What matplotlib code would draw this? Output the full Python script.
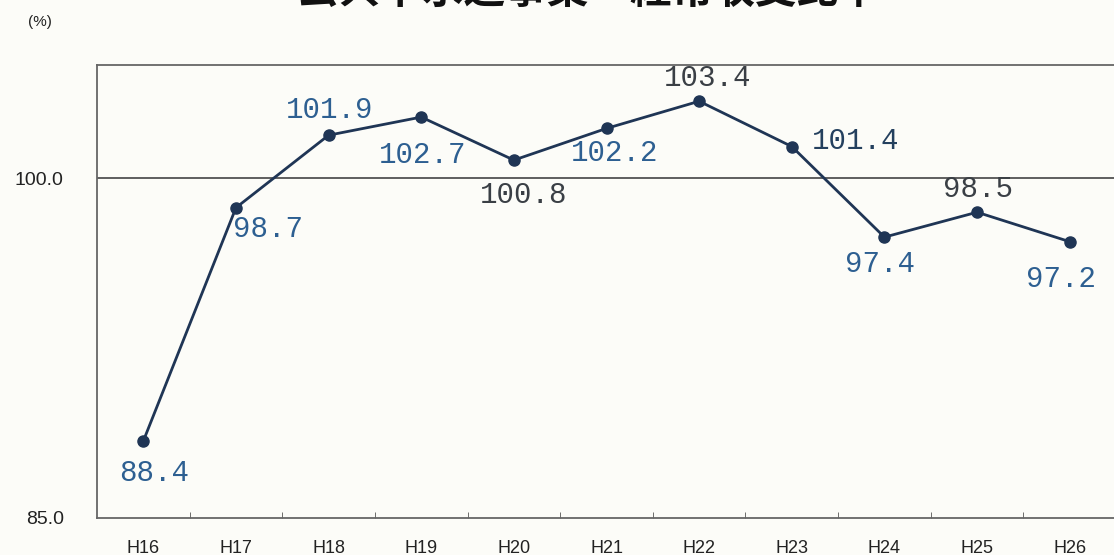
import matplotlib.pyplot as plt
import numpy as np

years = ['H16', 'H17', 'H18', 'H19', 'H20', 'H21', 'H22', 'H23', 'H24', 'H25', 'H26']
ratio = [88.4, 98.7, 101.9, 102.7, 100.8, 102.2, 103.4, 101.4, 97.4, 98.5, 97.2]
y_ticks = [85.0, 100.0]
title = '公共下水道事業　経常収支比率'

# label offsets in points (dx, dy) and colours, as placed in the original
offsets = [(8, -23), (23, -15), (1, 18), (1, -27), (7, -25), (6, -18),
           (6, 17), (46, 4), (-3, -19), (1, 17), (-6, -27)]
blue = '#2d5f91'
grey = '#3a3f45'
navy_txt = '#24405e'
label_colors = [blue, blue, blue, blue, grey, blue, grey, navy_txt, blue, grey, blue]

fig = plt.figure(figsize=(11.14, 5.55), dpi=100, facecolor='#fcfcf8')
ax = fig.add_axes([0.0871, 0.0667, 0.9147, 0.8162])
ax.set_facecolor('#fcfcf8')

x = np.arange(len(years))
ax.plot(x, ratio, color='#1f3555', lw=2, marker='o', ms=8, mfc='#1f3555', mec='#1f3555', zorder=3)

for xi, v, (dx, dy), c in zip(x, ratio, offsets, label_colors):
    ax.annotate(f'{v:.1f}', (xi, v), xytext=(dx, dy), textcoords='offset points',
                ha='center', va='center', fontsize=21, color=c, family='Liberation Mono')

ax.set_xlim(-0.5, len(years) - 0.5)
ax.set_ylim(85, 105)
ax.axhline(100, color='#444444', lw=1.2, zorder=1)

ax.set_xticks(x)
ax.set_xticklabels(years, fontsize=13, family='Liberation Sans', color='#222222')
ax.set_xticks(np.arange(0.5, len(years) - 0.5), minor=True)
ax.tick_params(axis='x', which='major', length=0, pad=16)
ax.tick_params(axis='x', which='minor', length=4, direction='in', color='#555555')
ax.set_yticks(y_ticks)
ax.set_yticklabels([f'{t:.1f}' for t in y_ticks], fontsize=14, family='Liberation Sans', color='#222222')
ax.tick_params(axis='y', length=0, pad=24)

for s in ax.spines.values():
    s.set_color('#666666')
    s.set_linewidth(1.3)

fig.text(0.036, 0.96, '(%)', fontsize=11, family='Liberation Sans', ha='center', va='center', color='#222222')
fig.text(0.528, 1.016, title, fontsize=30, fontweight='bold', family=['Noto Sans CJK JP', 'DejaVu Sans'],
         ha='center', va='center', color='#111111')

fig.savefig('out.png', dpi=100, facecolor=fig.get_facecolor())
